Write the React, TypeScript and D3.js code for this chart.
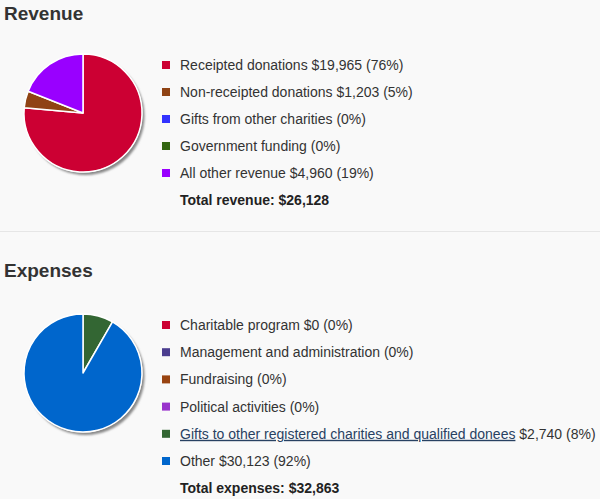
import React from "react";
import * as d3 from "d3";

const revenueLabels = [
  "Receipted donations $19,965 (76%)",
  "Non-receipted donations $1,203 (5%)",
  "Gifts from other charities (0%)",
  "Government funding (0%)",
  "All other revenue $4,960 (19%)",
];
const revenueValues = [19965, 1203, 0, 0, 4960];
const revenueColors = ["#cc0033", "#8f4314", "#3333ff", "#336611", "#9900ff"];
const revenueTotal = "Total revenue: $26,128";

const expenseLabels = [
  "Charitable program $0 (0%)",
  "Management and administration (0%)",
  "Fundraising (0%)",
  "Political activities (0%)",
  "Gifts to other registered charities and qualified donees",
  "Other $30,123 (92%)",
];
const expenseSuffix = ["", "", "", "", " $2,740 (8%)", ""];
const expenseValues = [0, 0, 0, 0, 2740, 30123];
const expenseColors = ["#cc0033", "#4b3d8f", "#994411", "#9933cc", "#336633", "#0066cc"];
const expenseTotal = "Total expenses: $32,863";

const FONT = "'Liberation Sans', Arial, sans-serif";

function Pie({ values, colors, cx, cy, r }: { values: number[]; colors: string[]; cx: number; cy: number; r: number }) {
  const pie = d3.pie<number>().sort(null).value((d) => d);
  const arc = d3.arc<d3.PieArcDatum<number>>().innerRadius(0).outerRadius(r);
  const arcs = pie(values);
  return (
    <g transform={`translate(${cx},${cy})`}>
      <circle cx={2.5} cy={3} r={r} fill="#888" filter="url(#blur)" />
      <circle cx={0} cy={0} r={r + 0.5} fill="#fff" />
      {arcs.map((a, i) =>
        a.value > 0 ? (
          <path key={i} d={arc(a) || ""} fill={colors[i]} stroke="#fff" strokeWidth={1.5} strokeLinejoin="round" />
        ) : null
      )}
    </g>
  );
}

function Legend({ labels, colors, suffix, total, x, y0, step, linkIndex }: any) {
  return (
    <g fontFamily={FONT} fontSize={14}>
      {labels.map((l: string, i: number) => {
        const cy = y0 + i * step;
        return (
          <g key={i}>
            <rect x={x} y={cy - 4} width={8} height={8} fill={colors[i]} />
            {i === linkIndex ? (
              <text x={x + 18} y={cy + 5} fill="#333">
                <tspan fill="#284162" textDecoration="underline">{l}</tspan>
                <tspan>{suffix ? suffix[i] : ""}</tspan>
              </text>
            ) : (
              <text x={x + 18} y={cy + 5} fill="#333">
                {l}
              </text>
            )}
          </g>
        );
      })}
      <text x={x + 18} y={y0 + labels.length * step + 5} fill="#222" fontWeight="bold">
        {total}
      </text>
    </g>
  );
}

export default function App() {
  return (
    <svg
      width={600}
      height={499}
      style={{ position: "absolute", left: 0, top: 0, background: "#f9f9f9" }}
    >
      <defs>
        <filter id="blur" x="-20%" y="-20%" width="140%" height="140%">
          <feGaussianBlur stdDeviation={1} />
        </filter>
      </defs>
      <rect width={600} height={499} fill="#f9f9f9" />
      <text x={4} y={20} fontFamily={FONT} fontSize={19} fontWeight="bold" fill="#333">
        Revenue
      </text>
      <Pie values={revenueValues} colors={revenueColors} cx={83} cy={113} r={59} />
      <Legend labels={revenueLabels} colors={revenueColors} total={revenueTotal} x={162} y0={65} step={27} linkIndex={-1} />
      <line x1={0} x2={600} y1={231.5} y2={231.5} stroke="#e6e6e6" strokeWidth={1} />
      <text x={4} y={277} fontFamily={FONT} fontSize={19} fontWeight="bold" fill="#333">
        Expenses
      </text>
      <Pie values={expenseValues} colors={expenseColors} cx={83} cy={373} r={59} />
      <Legend
        labels={expenseLabels}
        colors={expenseColors}
        suffix={expenseSuffix}
        total={expenseTotal}
        x={162}
        y0={325}
        step={27.2}
        linkIndex={4}
      />
    </svg>
  );
}
